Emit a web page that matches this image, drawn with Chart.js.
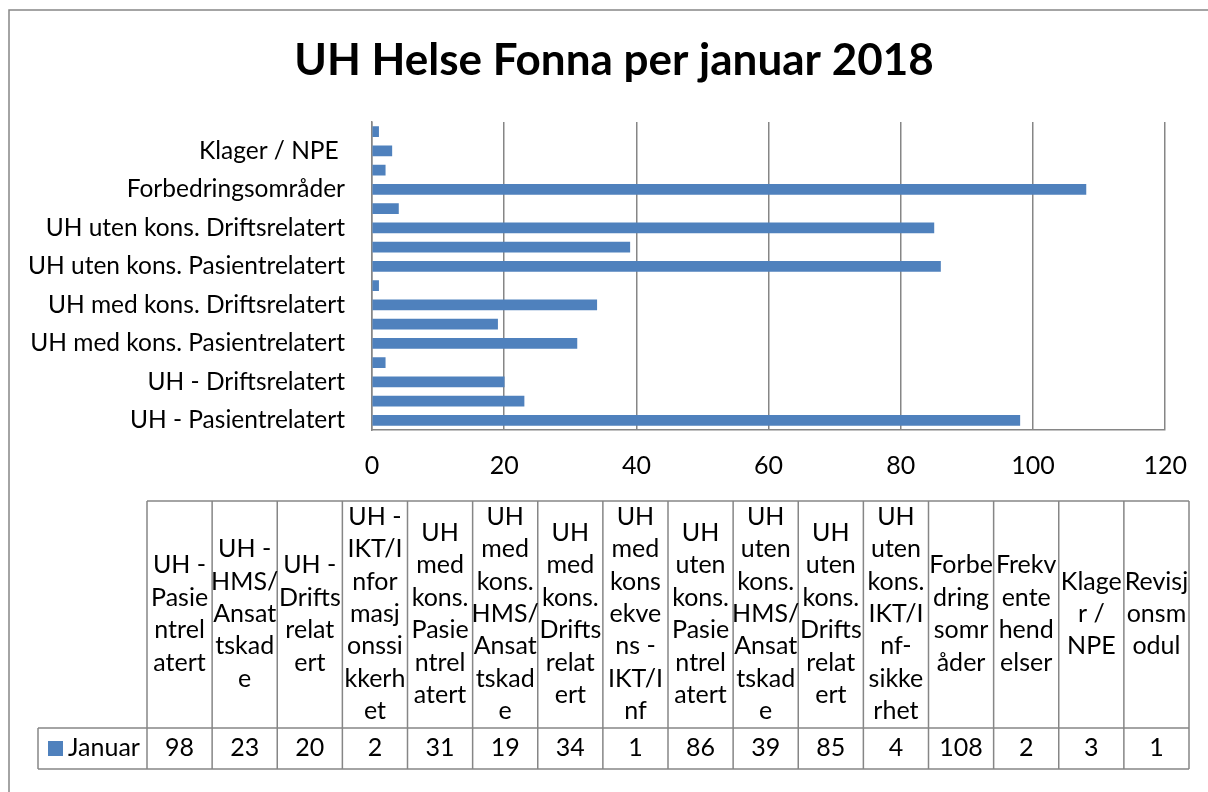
<!DOCTYPE html>
<html>
<head>
<meta charset="utf-8">
<script src="https://cdn.jsdelivr.net/npm/chart.js@4.4.1/dist/chart.umd.min.js"></script>
<style>
  html, body { margin: 0; padding: 0; background: #fff; }
  #wrap { width: 1208px; height: 792px; }
</style>
</head>
<body>
<div id="wrap"><canvas id="chartUH" width="1208" height="792"></canvas></div>
<script>
'use strict';
// --- data ---
const categories = [
  'UH - Pasientrelatert', 'UH - HMS/Ansattskade', 'UH - Driftsrelatert', 'UH - IKT/Informasjonssikkerhet',
  'UH med kons. Pasientrelatert', 'UH med kons. HMS/Ansattskade', 'UH med kons. Driftsrelatert', 'UH med konsekvens - IKT/Inf',
  'UH uten kons. Pasientrelatert', 'UH uten kons. HMS/Ansattskade', 'UH uten kons. Driftsrelatert', 'UH uten kons. IKT/Inf-sikkerhet',
  'Forbedringsområder', 'Frekvente hendelser', 'Klager / NPE ', 'Revisjonsmodul',
];
const januar = [98, 23, 20, 2, 31, 19, 34, 1, 86, 39, 85, 4, 108, 2, 3, 1];
const seriesName = 'Januar';
const chartTitle = 'UH Helse Fonna per januar 2018';
const xTicks = [0, 20, 40, 60, 80, 100, 120];
// column headers of the data table, wrapped as in the original
const headerLines = [
  ['UH -', 'Pasie', 'ntrel', 'atert'],
  ['UH -', 'HMS/', 'Ansat', 'tskad', 'e'],
  ['UH -', 'Drifts', 'relat', 'ert'],
  ['UH -', 'IKT/I', 'nfor', 'masj', 'onssi', 'kkerh', 'et'],
  ['UH', 'med', 'kons.', 'Pasie', 'ntrel', 'atert'],
  ['UH', 'med', 'kons.', 'HMS/', 'Ansat', 'tskad', 'e'],
  ['UH', 'med', 'kons.', 'Drifts', 'relat', 'ert'],
  ['UH', 'med', 'kons', 'ekve', 'ns -', 'IKT/I', 'nf'],
  ['UH', 'uten', 'kons.', 'Pasie', 'ntrel', 'atert'],
  ['UH', 'uten', 'kons.', 'HMS/', 'Ansat', 'tskad', 'e'],
  ['UH', 'uten', 'kons.', 'Drifts', 'relat', 'ert'],
  ['UH', 'uten', 'kons.', 'IKT/I', 'nf-', 'sikke', 'rhet'],
  ['Forbe', 'dring', 'somr', 'åder'],
  ['Frekv', 'ente', 'hend', 'elser'],
  ['Klage', 'r /', 'NPE'],
  ['Revisj', 'onsm', 'odul'],
];

const FONT = 'Lato, "Open Sans", sans-serif';
const BLUE = '#4F81BD';
const LINE = '#868686';

// frame, title and data table drawn around the chart
const tablePlugin = {
  id: 'uhTable',
  beforeDraw(chart) {
    const ctx = chart.ctx;
    ctx.save();
    ctx.fillStyle = '#fff';
    ctx.fillRect(0, 0, chart.width, chart.height);
    ctx.strokeStyle = LINE;
    ctx.lineWidth = 1.5;
    ctx.beginPath();
    ctx.moveTo(9, chart.height);
    ctx.lineTo(9, 10);
    ctx.lineTo(chart.width, 10);
    ctx.stroke();

    ctx.fillStyle = '#000';
    ctx.font = 'bold 44px ' + FONT;
    ctx.textAlign = 'center';
    ctx.textBaseline = 'middle';
    ctx.fillText(chartTitle, 614, 61);
    ctx.restore();
  },
  afterDraw(chart) {
    const ctx = chart.ctx;
    const left = 147, right = 1189, top = 501, mid = 728, bottom = 769, legLeft = 38;
    const colW = (right - left) / categories.length;
    ctx.save();
    ctx.strokeStyle = LINE;
    ctx.lineWidth = 1.5;
    ctx.beginPath();
    ctx.moveTo(left, top); ctx.lineTo(right, top);
    ctx.moveTo(legLeft, mid); ctx.lineTo(right, mid);
    ctx.moveTo(legLeft, bottom); ctx.lineTo(right, bottom);
    ctx.moveTo(legLeft, mid); ctx.lineTo(legLeft, bottom);
    for (let i = 0; i <= categories.length; i++) {
      const x = left + i * colW;
      ctx.moveTo(x, top); ctx.lineTo(x, bottom);
    }
    ctx.stroke();

    ctx.fillStyle = '#000';
    ctx.font = '25px ' + FONT;
    ctx.textAlign = 'center';
    ctx.textBaseline = 'middle';
    const lh = 32.4, cy = 614;
    headerLines.forEach((lines, i) => {
      const cx = left + (i + 0.5) * colW;
      const y0 = cy - (lines.length - 1) * lh / 2;
      lines.forEach((t, j) => ctx.fillText(t, cx, y0 + j * lh));
      ctx.fillText(String(januar[i]), cx, 748);
    });

    // legend key
    ctx.fillStyle = BLUE;
    ctx.fillRect(48, 741, 15, 15);
    ctx.fillStyle = '#000';
    ctx.textAlign = 'left';
    ctx.fillText(seriesName, 68, 748);
    ctx.restore();
  },
};

new Chart(document.getElementById('chartUH'), {
  type: 'bar',
  data: {
    labels: categories,
    datasets: [{
      label: seriesName,
      data: januar,
      backgroundColor: BLUE,
      barThickness: 10,
    }],
  },
  options: {
    indexAxis: 'y',
    responsive: false,
    animation: false,
    devicePixelRatio: 1,
    layout: { padding: { top: 122, right: 35, bottom: 0, left: 0 } },
    plugins: {
      legend: { display: false },
      tooltip: { enabled: false },
      title: { display: false },
    },
    scales: {
      x: {
        min: 0, max: 120,
        afterBuildTicks: s => { s.ticks = xTicks.map(v => ({ value: v })); },
        afterFit: s => { s.height = 362; },
        ticks: { color: '#000', font: { family: FONT, size: 25 }, padding: 21 },
        grid: { color: LINE, lineWidth: 1.5, drawTicks: false },
        border: { display: true, color: LINE, width: 1.5 },
      },
      y: {
        reverse: true,
        afterFit: s => { s.width = 372; },
        ticks: {
          autoSkip: false,
          color: '#000',
          font: { family: FONT, size: 24.5 },
          padding: 27,
          callback: (v, i) => (i % 2 === 0 ? categories[i] : ''),
        },
        grid: { display: false, drawTicks: false },
        border: { display: true, color: LINE, width: 1.5 },
      },
    },
  },
  plugins: [tablePlugin],
});
</script>
</body>
</html>
